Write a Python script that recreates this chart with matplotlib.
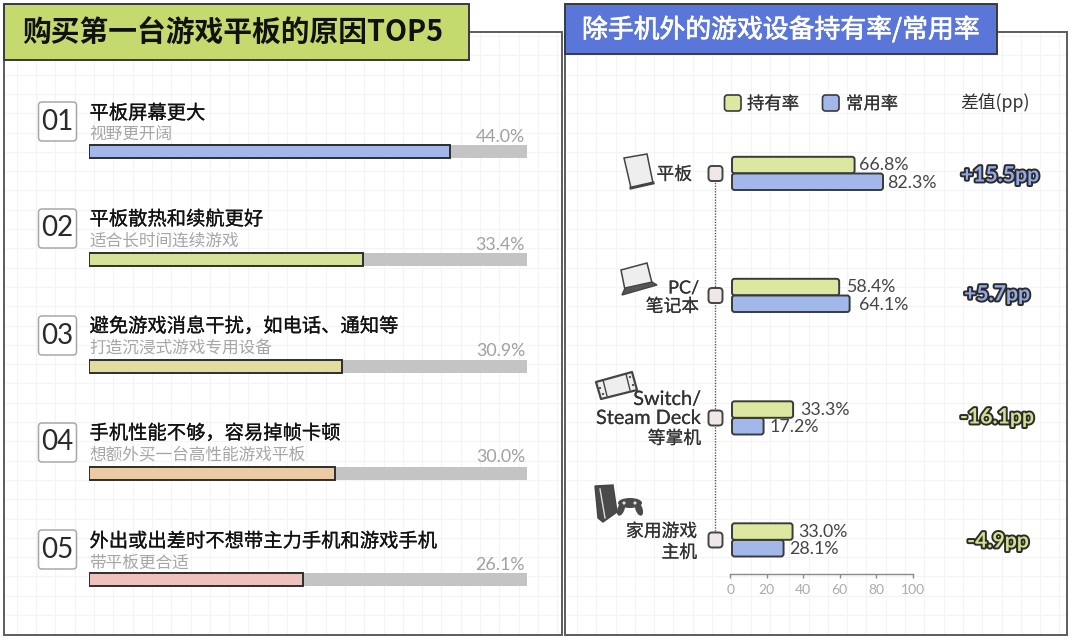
import matplotlib
matplotlib.use("Agg")
import matplotlib.pyplot as plt
from matplotlib.patches import FancyBboxPatch, Rectangle, Polygon, Circle, Ellipse
import matplotlib.patheffects as pe

CJK = ['Lato', 'Noto Sans CJK SC', 'DejaVu Sans']
CJK_ONLY = ['Noto Sans CJK SC', 'DejaVu Sans']
plt.rcParams['font.family'] = CJK

# ---- data ----
title_left = '购买第一台游戏平板的原因TOP5'
title_right = '除手机外的游戏设备持有率/常用率'
ranks = ['01', '02', '03', '04', '05']
reasons = ['平板屏幕更大', '平板散热和续航更好', '避免游戏消息干扰\uff0c如电话、通知等',
           '手机性能不够\uff0c容易掉帧卡顿', '外出或出差时不想带主力手机和游戏手机']
reason_notes = ['视野更开阔', '适合长时间连续游戏', '打造沉浸式游戏专用设备',
                '想额外买一台高性能游戏平板', '带平板更合适']
reason_values = [44.0, 33.4, 30.9, 30.0, 26.1]
devices = [['平板'], ['PC/', '笔记本'], ['Switch/', 'Steam Deck', '等掌机'], ['家用游戏', '主机']]
own_rate = [66.8, 58.4, 33.3, 33.0]
use_rate = [82.3, 64.1, 17.2, 28.1]
diff_labels = ['+15.5pp', '+5.7pp', '-16.1pp', '-4.9pp']
ticks = [0, 20, 40, 60, 80, 100]

# ---- style ----
W, H = 1072, 640
DARK = '#3a3a3a'
reason_colors = ['#A3B8E8', '#D6E29A', '#E2DC9E', '#EBCBA4', '#EDC2BC']
GREEN, BLUE = '#DCE79F', '#A3B8EA'
fig = plt.figure(figsize=(W / 100, H / 100), dpi=100, facecolor='white')

def axes_px(x0, x1, y0, y1):
    return fig.add_axes([x0 / W, 1 - y1 / H, (x1 - x0) / W, (y1 - y0) / H])

def semi(color, w=0.45):
    return [pe.withStroke(linewidth=w, foreground=color)]

bg = axes_px(0, W, 0, H)
bg.set_xlim(0, W); bg.set_ylim(H, 0); bg.axis('off')

# panels with faint grid
for (x0, x1, gx0) in [(4, 562, 16.8), (565, 1067, 577.0)]:
    y0, y1 = 32, 635
    gx = gx0
    while gx < x1 - 2:
        bg.plot([gx, gx], [y0 + 2, y1 - 2], color='#F4F4F4', lw=0.8, zorder=0.5)
        gx += 19.3
    gy = 36.0
    while gy < y1 - 2:
        bg.plot([x0 + 2, x1 - 2], [gy, gy], color='#F4F4F4', lw=0.8, zorder=0.5)
        gy += 19.3
    bg.add_patch(Rectangle((x0, y0), x1 - x0, y1 - y0, fc='none', ec='#5c5c5c', lw=1.4, zorder=1))

# title boxes
bg.add_patch(Rectangle((3.5, 3.5), 465, 56.5, fc='#C5DA6E', ec=DARK, lw=1.4, zorder=2))
bg.text(22, 33, title_left, fontsize=20.7, fontweight='bold', color='#111111', va='center',
        family=CJK_ONLY, zorder=3)
bg.add_patch(Rectangle((564.5, 4), 432, 50, fc='#5B76D9', ec=DARK, lw=1.4, zorder=2))
bg.text(582, 30, title_right, fontsize=18.6, color='white', va='center',
        family=CJK_ONLY, zorder=3, path_effects=semi('white', 0.5))

# ---- left panel ----
bar_rows = [151.5, 259, 366.5, 473.5, 579.5]
title_y = [113.5, 219.5, 326.5, 433.5, 541.5]
note_y = [134, 241, 348, 455, 563]
box_y = [121.5, 228.5, 335.5, 442.5, 549.5]
pct_y = [137, 244.5, 351, 457.5, 564.5]
axL = axes_px(89, 527, 100, 600)
axL.patch.set_alpha(0)
axL.set_xlim(0, 53.4); axL.set_ylim(600, 100); axL.axis('off')
axL.barh(bar_rows, [53.4] * 5, height=13, color='#C4C4C4', zorder=1)
axL.barh(bar_rows, reason_values, height=13, color=reason_colors, edgecolor='#2e2e2e', lw=1.4, zorder=2)
for i in range(5):
    bg.add_patch(FancyBboxPatch((38.5, box_y[i] - 19.5), 38, 39, boxstyle='round,pad=0,rounding_size=3.5',
                                fc='white', ec='#A8A8A8', lw=1.1, zorder=3))
    bg.text(57.5, box_y[i], ranks[i], fontsize=20, color='#2a2a2a', ha='center', va='center',
            family='Lato', zorder=4)
    bg.text(89.5, title_y[i], reasons[i], fontsize=13.9, color='#111111', va='center',
            family=CJK_ONLY, zorder=4, path_effects=semi('#111111', 0.15))
    bg.text(89.5, note_y[i], reason_notes[i], fontsize=12, color='#A6A6A6', va='center',
            family=CJK_ONLY, zorder=4)
    bg.text(525, pct_y[i], f'{reason_values[i]:.1f}%', fontsize=12.8, color='#A0A0A0', ha='right',
            va='center', zorder=4)

# ---- right panel ----
row_y = [173.5, 295.5, 418, 540]
# tick scale
axT = axes_px(730.3, 912.7, 140, 574)
axT.patch.set_alpha(0)
axT.set_xlim(0, 100); axT.set_ylim(574, 140)
for s in ['top', 'left', 'right']:
    axT.spines[s].set_visible(False)
axT.spines['bottom'].set_color('#8a8a8a'); axT.spines['bottom'].set_linewidth(1)
axT.set_yticks([])
axT.set_xticks(ticks)
axT.tick_params(axis='x', length=3, width=1, color='#8a8a8a', labelcolor='#ABABAB', labelsize=10, pad=4)

# bar scale
BAR_X0, BAR_X1 = 732.0, 915.5
axR = axes_px(BAR_X0, BAR_X1, 140, 574)
axR.patch.set_alpha(0)
axR.set_xlim(0, 100); axR.set_ylim(574, 140); axR.axis('off')
px_per_unit = (BAR_X1 - BAR_X0) / 100

def rbar(v, top, color):
    axR.add_patch(FancyBboxPatch((0, top), v, 16.5, boxstyle='round,pad=0,rounding_size=1.4',
                                 mutation_aspect=px_per_unit, fc=color, ec=DARK, lw=1.4,
                                 clip_on=False, zorder=3))

own_pad = [4, 6.5, 7.5, 6]
use_pad = [4, 9, 6, 6]
for i, y in enumerate(row_y):
    rbar(own_rate[i], y - 16.7, GREEN)
    rbar(use_rate[i], y, BLUE)
    axR.annotate(f'{own_rate[i]:.1f}%', (own_rate[i], y - 8), xytext=(own_pad[i] * .72, 0),
                 textcoords='offset points', fontsize=12.8, color='#444444', va='center')
    axR.annotate(f'{use_rate[i]:.1f}%', (use_rate[i], y + 9.5), xytext=(use_pad[i] * .72, 0),
                 textcoords='offset points', fontsize=12.8, color='#444444', va='center')

# connector + nodes
bg.plot([715, 715], [row_y[0], row_y[-1]], color='#555555', lw=1, ls=(0, (1, 1)), zorder=2)
for y in row_y:
    bg.add_patch(FancyBboxPatch((708.5, y - 7.5), 14, 15, boxstyle='round,pad=0,rounding_size=3.5',
                                fc='#F0E8E6', ec='#444444', lw=1.4, zorder=3))

# legend
bg.add_patch(FancyBboxPatch((724.5, 95), 16.5, 16, boxstyle='round,pad=0,rounding_size=3', fc=GREEN, ec=DARK, lw=1.2, zorder=3))
bg.add_patch(FancyBboxPatch((822.5, 95), 16.5, 16, boxstyle='round,pad=0,rounding_size=3', fc=BLUE, ec=DARK, lw=1.2, zorder=3))
bg.text(747, 104, '持有率', fontsize=12.5, color='#333333', va='center', family=CJK_ONLY, zorder=3, path_effects=semi('#333333', 0.1))
bg.text(846, 104, '常用率', fontsize=12.5, color='#333333', va='center', family=CJK_ONLY, zorder=3, path_effects=semi('#333333', 0.1))
bg.text(960, 103, '差值(pp)', fontsize=12.8, color='#333333', va='center', family=CJK_ONLY, zorder=3)

# device labels
label_right = [692, 699, 701, 697]
label_ys = [[174.5], [288.5, 306.5], [399.5, 418.5, 438.5], [531.5, 552.5]]
label_sizes = [[12.8], [13, 12.8], [14.3, 14.3, 12.8], [12.8, 12.8]]
for lines, r, ys, szs in zip(devices, label_right, label_ys, label_sizes):
    for t, yy, sz in zip(lines, ys, szs):
        bg.text(r, yy, t, fontsize=sz, color='#333333', ha='right', va='center', zorder=3,
                path_effects=semi('#333333', 0.1))

# difference labels
diff_x = [1000, 997, 997, 998]
diff_fill = ['#93A8E6', '#93A8E6', '#D3DE8E', '#D3DE8E']
for t, x, y, c in zip(diff_labels, diff_x, [175.5, 294.5, 417.5, 541.5], diff_fill):
    bg.text(x, y, t, fontsize=15.3, fontweight='bold', color=c, ha='center', va='center', zorder=4,
            path_effects=[pe.withStroke(linewidth=2.8, foreground='#2b2b2b')])

# ---- icons ----
ICON = '#444444'
bg.add_patch(Polygon([(624, 158), (647, 154), (653, 183), (631, 188)], fc='#EEEEEE', ec=ICON, lw=1.1, zorder=3))
bg.plot([631, 653], [188, 183], color=ICON, lw=2.2, zorder=3)
bg.add_patch(Polygon([(621, 270), (647, 263), (652, 283), (625, 290)], fc='#EEEEEE', ec=ICON, lw=1.1, zorder=3))
bg.add_patch(Polygon([(625, 288), (652, 282), (657, 285), (622, 295)], fc='#555555', ec=ICON, lw=1, zorder=3))
bg.add_patch(Polygon([(596, 382), (632, 372), (637, 390), (601, 399)], closed=True, fc='#EEEEEE', ec=ICON, lw=1.6,
                     joinstyle='round', zorder=3))
bg.plot([603, 607], [380, 396], color=ICON, lw=1, zorder=3)
bg.plot([626, 630], [374, 390], color=ICON, lw=1, zorder=3)
for (cx, cy) in [(600, 388), (603, 394), (630, 377), (633, 385)]:
    bg.add_patch(Circle((cx, cy), 1.1, fc=ICON, ec='none', zorder=4))
bg.add_patch(Polygon([(595, 486), (613, 485), (617, 512), (603, 522), (598, 518)], fc='#4a4a4a', ec=ICON, lw=1, zorder=3))
bg.plot([600, 605], [489, 518], color='#DDDDDD', lw=1, zorder=4)
bg.add_patch(Ellipse((630, 503), 24, 10, fc='#4a4a4a', ec='none', zorder=3))
bg.add_patch(Ellipse((621, 509), 7, 14, angle=20, fc='#4a4a4a', ec='none', zorder=3))
bg.add_patch(Ellipse((639, 509), 7, 14, angle=-20, fc='#4a4a4a', ec='none', zorder=3))
for (cx, cy) in [(624, 503), (635, 503)]:
    bg.add_patch(Circle((cx, cy), 1.6, fc='#DDDDDD', ec='none', zorder=4))

fig.savefig('out.png', dpi=100)
